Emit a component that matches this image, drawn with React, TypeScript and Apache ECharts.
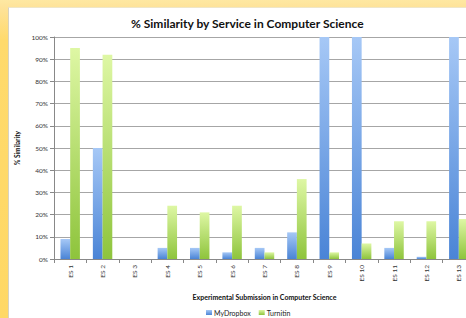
import React, { useEffect, useRef } from "react";
import * as echarts from "echarts";

const categories = ["ES 1", "ES 2", "ES 3", "ES 4", "ES 5", "ES 6", "ES 7", "ES 8", "ES 9", "ES 10", "ES 11", "ES 12", "ES 13"];
const myDropbox = [9, 50, 0, 5, 5, 3, 5, 12, 100, 100, 5, 1, 100];
const turnitin = [95, 92, 0, 24, 21, 24, 3, 36, 3, 7, 17, 17, 18];
const yTicks = [0, 10, 20, 30, 40, 50, 60, 70, 80, 90, 100];

const FONT = "Lato, 'Open Sans', sans-serif";

export default function App() {
  const ref = useRef<HTMLDivElement>(null);
  useEffect(() => {
    document.body.style.margin = "0";
    const chart = echarts.init(ref.current!, undefined, { renderer: "svg" });
    const grad = (top: string, bottom: string) => ({
      type: "linear", x: 0, y: 0, x2: 0, y2: 1,
      colorStops: [{ offset: 0, color: top }, { offset: 1, color: bottom }],
    });
    chart.setOption({
      animation: false,
      textStyle: { fontFamily: FONT },
      title: {
        text: "% Similarity by Service in Computer Science",
        left: 126,
        top: 12,
        textStyle: { fontSize: 12, fontWeight: "bold", color: "#111", fontFamily: FONT },
      },
      legend: {
        data: ["MyDropbox", "Turnitin"],
        left: 206,
        top: 309,
        padding: 0,
        itemWidth: 6,
        itemHeight: 5,
        itemGap: 8,
        icon: "rect",
        textStyle: { fontSize: 7, color: "#222", padding: [0, 0, 0, -3] },
      },
      grid: { left: 54, top: 37, width: 421, height: 222 },
      xAxis: {
        type: "category",
        data: categories,
        name: "Experimental Submission in Computer Science",
        nameLocation: "middle",
        nameGap: 34,
        nameTextStyle: { fontSize: 7, fontWeight: "bold", color: "#111" },
        axisLine: { lineStyle: { color: "#888" } },
        axisTick: { show: true, length: 4, lineStyle: { color: "#888" } },
        axisLabel: { rotate: 90, fontSize: 6.5, color: "#333", margin: 6 },
      },
      yAxis: {
        type: "value",
        min: 0,
        max: 100,
        interval: 10,
        name: "% Similarity",
        nameLocation: "middle",
        nameGap: 30,
        nameTextStyle: { fontSize: 6.5, fontWeight: "bold", color: "#111" },
        axisLine: { show: true, lineStyle: { color: "#888" } },
        axisTick: { show: true, length: 4, lineStyle: { color: "#888" } },
        axisLabel: {
          fontSize: 6.5, color: "#333", margin: 6,
          formatter: (v: number) => (yTicks.includes(v) ? v + "%" : ""),
        },
        splitLine: { lineStyle: { color: "#a6a6a6", width: 1 } },
      },
      series: [
        {
          name: "MyDropbox",
          type: "bar",
          data: myDropbox,
          barGap: "0%",
          barCategoryGap: "40%",
          itemStyle: { color: grad("#a6c8f6", "#4a84d6"), borderWidth: 0 },
        },
        {
          name: "Turnitin",
          type: "bar",
          data: turnitin,
          itemStyle: { color: grad("#def7a4", "#8ec43c"), borderWidth: 0 },
        },
      ],
    });
    return () => chart.dispose();
  }, []);
  return (
    <div
      style={{
        position: "fixed", left: 0, top: 0, width: 466, height: 318, overflow: "hidden",
        background: "linear-gradient(180deg, #fee8a2 0px, #fee39a 7px, #ffda6c 40px, #ffd865 318px)",
      }}
    >
      <div
        style={{
          position: "absolute", left: 8, top: 7, width: 520, height: 340, background: "#fff",
          borderLeft: "1px solid #d8d2c0", borderTop: "1px solid #efe6c8", boxSizing: "border-box",
        }}
      />
      <div ref={ref} style={{ position: "absolute", left: 0, top: 0, width: 520, height: 318 }} />
    </div>
  );
}
